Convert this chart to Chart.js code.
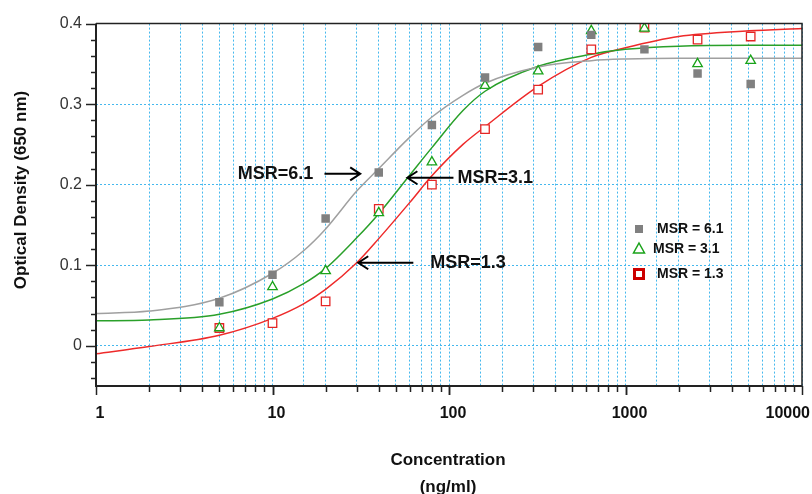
<!DOCTYPE html>
<html>
<head>
<meta charset="utf-8">
<script src="https://cdn.jsdelivr.net/npm/chart.js@4.4.0/dist/chart.umd.min.js"></script>
<style>
  html, body { margin: 0; padding: 0; background: #fff; }
  canvas { display: block; }
</style>
</head>
<body>
<canvas id="od" width="812" height="494"></canvas>
<script>
// measured OD at each concentration (ng/ml)
const concentrations = [5, 10, 20, 40, 80, 160, 320, 640, 1280, 2560, 5120];
const odMsr61 = [0.054, 0.088, 0.158, 0.215, 0.274, 0.333, 0.371, 0.386, 0.368, 0.338, 0.325];
const odMsr31 = [0.022, 0.073, 0.093, 0.165, 0.228, 0.323, 0.341, 0.391, 0.394, 0.350, 0.354];
const odMsr13 = [0.022, 0.028, 0.055, 0.170, 0.200, 0.269, 0.318, 0.368, 0.395, 0.380, 0.384];

// fitted dose-response curves, read at these concentrations
const fitConc  = [1, 2, 5, 10, 15, 20, 30, 40, 60, 80, 120, 160, 320, 640, 1000, 2000, 5000, 10000];
const fitMsr61 = [0.040, 0.043, 0.059, 0.090, 0.118, 0.145, 0.192, 0.220, 0.259, 0.284, 0.311, 0.326, 0.346, 0.354, 0.356, 0.357, 0.357, 0.357];
const fitMsr31 = [0.031, 0.032, 0.039, 0.058, 0.077, 0.096, 0.134, 0.164, 0.212, 0.246, 0.292, 0.316, 0.347, 0.362, 0.368, 0.372, 0.373, 0.373];
const fitMsr13 = [-0.010, -0.001, 0.013, 0.034, 0.052, 0.070, 0.103, 0.133, 0.178, 0.211, 0.250, 0.272, 0.322, 0.358, 0.370, 0.384, 0.391, 0.394];

const seriesLabels = ['MSR = 6.1', 'MSR = 3.1', 'MSR = 1.3'];
const xTickLabels = [1, 10, 100, 1000, 10000];
const yTickLabels = [0, 0.1, 0.2, 0.3, 0.4];

// arrow callouts on the curves
const calloutText = ['MSR=6.1', 'MSR=3.1', 'MSR=1.3'];
const calloutTextConc = [17.0, 111.6, 78.4];
const calloutTailConc = [19.7, 106, 62.8];
const calloutTipConc = [31.4, 58.1, 30.6];
const calloutOd = [0.2135, 0.2086, 0.103];

const FONT = "Arial, 'Liberation Sans', sans-serif";
const GRAY = '#808080', GREEN = '#1aa31a', RED = '#e52525';
const GRID = '#45b8ee';

const pts = (xs, ys) => xs.map((x, i) => ({ x: x, y: ys[i] }));

const curve = (data, color) => ({
  data: data, showLine: true, borderColor: color, borderWidth: 1.5,
  pointRadius: 0, cubicInterpolationMode: 'monotone', order: 2
});

const decor = {
  id: 'decor',
  afterDraw(chart) {
    const { ctx, chartArea: a, scales: { x, y } } = chart;
    ctx.save();

    // frame and axes
    ctx.strokeStyle = '#222';
    ctx.lineWidth = 1.5;
    ctx.beginPath();
    ctx.moveTo(a.left, a.top); ctx.lineTo(a.right, a.top); ctx.lineTo(a.right, a.bottom);
    ctx.stroke();
    ctx.lineWidth = 2;
    ctx.beginPath();
    ctx.moveTo(a.left, a.top); ctx.lineTo(a.left, a.bottom); ctx.lineTo(a.right, a.bottom);
    ctx.stroke();

    // y tick marks every 0.02, longer at labelled values
    ctx.lineWidth = 1.5;
    for (let i = -2; i <= 20; i++) {
      const py = Math.round(y.getPixelForValue(i * 0.02)) + 0.5;
      const len = i % 5 === 0 ? 10 : 5;
      ctx.beginPath(); ctx.moveTo(a.left - len, py); ctx.lineTo(a.left, py); ctx.stroke();
    }
    // x tick marks on every integer of each decade
    for (let d = 1; d < 10000; d *= 10) {
      for (let k = 1; k <= 10; k++) {
        const px = Math.round(x.getPixelForValue(k * d)) + 0.5;
        const len = (k === 1 || k === 10) ? 9 : 6;
        ctx.beginPath(); ctx.moveTo(px, a.bottom); ctx.lineTo(px, a.bottom + len); ctx.stroke();
      }
    }

    // x tick labels
    ctx.fillStyle = '#111';
    ctx.font = 'bold 16px ' + FONT;
    ctx.textBaseline = 'middle';
    ctx.textAlign = 'center';
    xTickLabels.forEach(v => {
      const txt = String(v);
      const w = ctx.measureText(txt).width;
      const cx = Math.min(x.getPixelForValue(v) + 4, chart.width - 2 - w / 2);
      ctx.fillText(txt, cx, 414);
    });

    // axis titles
    ctx.font = 'bold 17px ' + FONT;
    ctx.fillText('Concentration', 448, 460);
    ctx.fillText('(ng/ml)', 448, 487);
    ctx.save();
    ctx.translate(21, 190);
    ctx.rotate(-Math.PI / 2);
    ctx.fillText('Optical Density (650 nm)', 0, 0);
    ctx.restore();

    // callouts with arrows
    ctx.font = 'bold 18px ' + FONT;
    ctx.strokeStyle = '#000';
    ctx.lineWidth = 2;
    calloutText.forEach((t, i) => {
      const py = y.getPixelForValue(calloutOd[i]);
      const tail = x.getPixelForValue(calloutTailConc[i]);
      const tip = x.getPixelForValue(calloutTipConc[i]);
      const dir = tip > tail ? 1 : -1;
      ctx.beginPath();
      ctx.moveTo(tail, py); ctx.lineTo(tip, py);
      ctx.moveTo(tip - dir * 10, py - 6.5); ctx.lineTo(tip, py); ctx.lineTo(tip - dir * 10, py + 6.5);
      ctx.stroke();
      ctx.textAlign = dir > 0 ? 'right' : 'left';
      ctx.fillText(t, x.getPixelForValue(calloutTextConc[i]), py);
    });

    // legend
    const lx = 639, rows = [229, 249, 274];
    ctx.fillStyle = GRAY;
    ctx.fillRect(lx - 4, rows[0] - 4, 8, 8);
    ctx.strokeStyle = GREEN; ctx.lineWidth = 1.5;
    ctx.beginPath();
    ctx.moveTo(lx, rows[1] - 6); ctx.lineTo(lx + 5.5, rows[1] + 4); ctx.lineTo(lx - 5.5, rows[1] + 4);
    ctx.closePath(); ctx.stroke();
    ctx.strokeStyle = '#cc0000'; ctx.lineWidth = 3;
    ctx.strokeRect(lx - 4.5, rows[2] - 4.5, 9, 9);
    ctx.fillStyle = '#111';
    ctx.font = 'bold 14px ' + FONT;
    ctx.textAlign = 'left';
    ctx.fillText(seriesLabels[0], 657, rows[0]);
    ctx.fillText(seriesLabels[1], 653, rows[1]);
    ctx.fillText(seriesLabels[2], 657, rows[2]);

    ctx.restore();
  }
};

new Chart(document.getElementById('od'), {
  type: 'scatter',
  data: {
    datasets: [
      curve(pts(fitConc, fitMsr61), '#a0a0a0'),
      curve(pts(fitConc, fitMsr31), '#2aa02a'),
      curve(pts(fitConc, fitMsr13), '#ee2a2a'),
      {
        label: seriesLabels[0], data: pts(concentrations, odMsr61), order: 1,
        pointStyle: 'rect', pointRadius: 6, backgroundColor: GRAY, borderColor: GRAY, borderWidth: 0
      },
      {
        label: seriesLabels[1], data: pts(concentrations, odMsr31), order: 1,
        pointStyle: 'triangle', pointRadius: 5.5, backgroundColor: '#fff', borderColor: GREEN, borderWidth: 1.3
      },
      {
        label: seriesLabels[2], data: pts(concentrations, odMsr13), order: 1,
        pointStyle: 'rect', pointRadius: 6, backgroundColor: '#fff', borderColor: RED, borderWidth: 1.3
      }
    ]
  },
  options: {
    responsive: false,
    animation: false,
    devicePixelRatio: 1,
    layout: { padding: { top: 20, right: 10, bottom: 0, left: 0 } },
    plugins: { legend: { display: false }, tooltip: { enabled: false } },
    scales: {
      x: {
        type: 'logarithmic', min: 1, max: 10000,
        ticks: { display: false },
        grid: { color: GRID, lineWidth: 1, drawTicks: false },
        border: { display: false, dash: [2, 2] },
        afterFit: s => { s.height = 108; }
      },
      y: {
        min: -0.05, max: 0.4,
        ticks: {
          stepSize: 0.1, padding: 14, color: '#333',
          font: { family: FONT, size: 16 },
          callback: v => {
            const hit = yTickLabels.find(t => Math.abs(t - v) < 1e-6);
            return hit === undefined ? '' : String(hit);
          }
        },
        grid: { color: GRID, lineWidth: 1, drawTicks: false },
        border: { display: false, dash: [2, 2] },
        afterFit: s => { s.width = 96; }
      }
    }
  },
  plugins: [decor]
});
</script>
</body>
</html>
